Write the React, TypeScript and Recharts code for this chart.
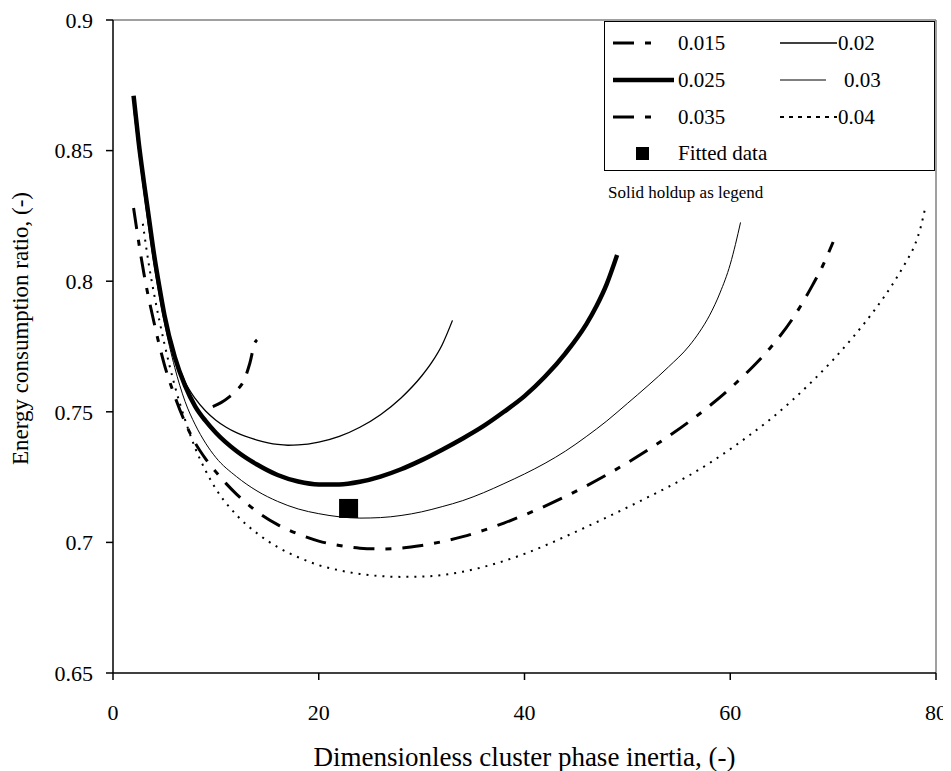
import React from 'react';
import { ComposedChart, Line, Scatter, XAxis, YAxis, ReferenceLine, Label } from 'recharts';

// ---- data (solid holdup as legend) ----
const h015X = [9.7, 10.5, 11.4, 12.1, 12.7, 13.3, 13.8, 14.0];
const h015Y = [0.752, 0.7535, 0.756, 0.7585, 0.7618, 0.7686, 0.7765, 0.7775];

const h020X = [2, 2.5, 3, 3.5, 4, 4.5, 5, 6, 7, 8, 9, 10, 11, 12, 14, 16, 17, 18, 20, 22, 24, 26, 28, 30, 31, 32, 33];
const h020Y = [0.869, 0.852, 0.837, 0.823, 0.81, 0.798, 0.788, 0.772, 0.7615, 0.755, 0.7503, 0.7468, 0.7441, 0.742, 0.7392, 0.7375, 0.7372, 0.7373, 0.7384, 0.7406, 0.7441, 0.7489, 0.7553, 0.7637, 0.769, 0.7757, 0.785];

const h025X = [2, 2.5, 3, 3.5, 4, 4.5, 5, 6, 7, 8, 9, 10, 12, 14, 16, 18, 20, 22, 24, 26, 28, 30, 32, 34, 36, 38, 40, 42, 44, 46, 47, 48, 49];
const h025Y = [0.871, 0.853, 0.838, 0.824, 0.81, 0.798, 0.787, 0.771, 0.76, 0.752, 0.7465, 0.742, 0.735, 0.7298, 0.7258, 0.7233, 0.7222, 0.7222, 0.7232, 0.7252, 0.728, 0.7315, 0.7355, 0.7398, 0.7445, 0.75, 0.756, 0.7635, 0.7725, 0.7835, 0.7905, 0.799, 0.81];

const h030X = [2, 3, 4, 5, 6, 7, 8, 9, 10, 12, 14, 16, 18, 20, 22, 24, 26, 28, 30, 32, 34, 36, 38, 40, 42, 44, 46, 48, 50, 52, 54, 56, 57, 58, 59, 60, 60.5, 61];
const h030Y = [0.866, 0.834, 0.806, 0.784, 0.767, 0.754, 0.745, 0.738, 0.7325, 0.7252, 0.7197, 0.7157, 0.7128, 0.711, 0.7098, 0.7093, 0.7095, 0.7103, 0.7117, 0.7137, 0.716, 0.719, 0.7225, 0.7262, 0.7303, 0.735, 0.7405, 0.7465, 0.7532, 0.76, 0.7672, 0.7752, 0.7805, 0.787, 0.7955, 0.8065, 0.814, 0.8225];

const h035X = [2, 3, 4, 5, 6, 7, 8, 9, 10, 11, 12, 14, 16, 18, 20, 22, 24, 26, 28, 30, 32, 34, 36, 38, 40, 42, 44, 46, 48, 50, 52, 54, 56, 58, 60, 62, 64, 66, 68, 69, 70];
const h035Y = [0.828, 0.803, 0.784, 0.768, 0.756, 0.746, 0.738, 0.732, 0.727, 0.7225, 0.7185, 0.7118, 0.7068, 0.7032, 0.7005, 0.6988, 0.6978, 0.6975, 0.6978, 0.6988, 0.7003, 0.7022, 0.7046, 0.7074, 0.7105, 0.7139, 0.7176, 0.7216, 0.7259, 0.7305, 0.7354, 0.7406, 0.7462, 0.7523, 0.759, 0.7665, 0.775, 0.7853, 0.7985, 0.806, 0.815];

const h040X = [2.9, 3.5, 4, 5, 6, 7, 8, 9, 10, 12, 14, 16, 18, 20, 22, 24, 26, 28, 30, 32, 34, 36, 38, 40, 42, 44, 46, 48, 50, 52, 54, 56, 58, 60, 62, 64, 66, 68, 70, 72, 74, 76, 77, 78, 78.5, 79];
const h040Y = [0.822, 0.806, 0.795, 0.776, 0.76, 0.747, 0.736, 0.7275, 0.7205, 0.7105, 0.7035, 0.6982, 0.6943, 0.6913, 0.6893, 0.6879, 0.6871, 0.6868, 0.6869, 0.6875, 0.6888, 0.6906, 0.6929, 0.6956, 0.6988, 0.7023, 0.7059, 0.7096, 0.7134, 0.7173, 0.7213, 0.7256, 0.7304, 0.7357, 0.7414, 0.7475, 0.7543, 0.7618, 0.7699, 0.7789, 0.7888, 0.8002, 0.8068, 0.8145, 0.8205, 0.829];

const fittedX = [22.9];
const fittedY = [0.713];

const xTicks = [0, 20, 40, 60, 80];
const yTicks = [0.65, 0.7, 0.75, 0.8, 0.85, 0.9];

const xTitle = 'Dimensionless cluster phase inertia, (-)';
const yTitle = 'Energy consumption ratio, (-)';
const noteText = 'Solid holdup as legend';

type Pt = { x: number; y: number };
const pts = (xs: number[], ys: number[]): Pt[] => xs.map((x, i) => ({ x, y: ys[i] }));

const FONT = '"Liberation Serif", "Times New Roman", serif';
const DASHDOT = '21 11 6 11';

const series = [
  { name: '0.015', data: pts(h015X, h015Y), width: 3, dash: DASHDOT },
  { name: '0.02', data: pts(h020X, h020Y), width: 1.3, dash: undefined },
  { name: '0.025', data: pts(h025X, h025Y), width: 4.5, dash: undefined },
  { name: '0.03', data: pts(h030X, h030Y), width: 1, dash: undefined },
  { name: '0.035', data: pts(h035X, h035Y), width: 3, dash: DASHDOT },
  { name: '0.04', data: pts(h040X, h040Y), width: 2, dash: '2 6' },
];

const fitted = pts(fittedX, fittedY);

const Square = (props: any) => {
  const { cx, cy } = props;
  if (cx == null || cy == null) return null;
  return <rect x={cx - 9.5} y={cy - 9.5} width={19} height={19} fill="#000" />;
};

const XTick = (props: any) => {
  const { x, y, payload } = props;
  return (
    <text x={x} y={y} dy="0.71em" textAnchor="middle" fontSize={22} fontFamily={FONT} fill="#000">
      {String(payload.value)}
    </text>
  );
};

const YTick = (props: any) => {
  const { x, y, payload } = props;
  return (
    <text x={x} y={y} dy="0.35em" textAnchor="end" fontSize={22} fontFamily={FONT} fill="#000">
      {String(payload.value)}
    </text>
  );
};

const Sample = ({ w, width, dash }: { w: number; width: number; dash?: string }) => (
  <svg width={w} height={12} style={{ display: 'block' }}>
    <line x1={0} y1={6} x2={w} y2={6} stroke="#000" strokeWidth={width} strokeDasharray={dash} />
  </svg>
);

const legendRow = (
  left: number,
  top: number,
  sampleW: number,
  textLeft: number,
  label: string,
  width: number,
  dash?: string
) => (
  <React.Fragment key={label}>
    <div style={{ position: 'absolute', left, top: top - 6 }}>
      <Sample w={sampleW} width={width} dash={dash} />
    </div>
    <div
      style={{
        position: 'absolute',
        left: textLeft,
        top: top - 12,
        fontFamily: FONT,
        fontSize: 21,
        lineHeight: '24px',
        color: '#000',
        whiteSpace: 'nowrap',
      }}
    >
      {label}
    </div>
  </React.Fragment>
);

export default function App() {
  return (
    <div style={{ position: 'relative', width: 943, height: 763, fontFamily: FONT }}>
      <ComposedChart width={943} height={763} margin={{ top: 12, right: 15, bottom: 8, left: 0 }}>
        <XAxis
          type="number"
          dataKey="x"
          domain={[0, 80]}
          ticks={xTicks}
          height={90}
          tickSize={7}
          tickMargin={24}
          stroke="#000"
          strokeWidth={1.5}
          tick={<XTick />}
        >
          <Label
            content={(p: any) => {
              const vb = p.viewBox;
              return (
                <text
                  x={vb.x + vb.width / 2}
                  y={vb.y + 93}
                  textAnchor="middle"
                  fontSize={27}
                  fontFamily={FONT}
                  fill="#000"
                >
                  {xTitle}
                </text>
              );
            }}
          />
        </XAxis>
        <YAxis
          type="number"
          domain={[0.65, 0.9]}
          ticks={yTicks}
          width={105}
          tickSize={7}
          tickMargin={13}
          stroke="#000"
          strokeWidth={1.5}
          tick={<YTick />}
        >
          <Label
            content={(p: any) => {
              const vb = p.viewBox;
              const cx = 12;
              const cy = vb.y + vb.height / 2 - 18;
              return (
                <text
                  x={cx}
                  y={cy}
                  transform={`rotate(-90 ${cx} ${cy})`}
                  textAnchor="middle"
                  dominantBaseline="central"
                  fontSize={23}
                  fontFamily={FONT}
                  fill="#000"
                >
                  {yTitle}
                </text>
              );
            }}
          />
        </YAxis>
        <ReferenceLine y={0.9} stroke="#808080" strokeWidth={1.5} />
        <ReferenceLine x={80} stroke="#808080" strokeWidth={1.5} />
        {series.map((s) => (
          <Line
            key={s.name}
            name={s.name}
            data={s.data}
            dataKey="y"
            type="monotone"
            stroke="#000"
            strokeWidth={s.width}
            strokeDasharray={s.dash}
            dot={false}
            activeDot={false}
            isAnimationActive={false}
          />
        ))}
        <Scatter name="Fitted data" data={fitted} dataKey="y" shape={<Square />} isAnimationActive={false} />
      </ComposedChart>

      <div
        style={{
          position: 'absolute',
          left: 596,
          top: 13,
          width: 331,
          height: 150,
          border: '1px solid #000',
          background: '#fff',
          boxSizing: 'border-box',
        }}
      >
        {legendRow(8, 21, 45, 73, '0.015', 3, DASHDOT)}
        {legendRow(175, 21, 57, 233, '0.02', 1.3)}
        {legendRow(8, 58, 61, 73, '0.025', 4.5)}
        {legendRow(175, 58, 46, 239, '0.03', 1)}
        {legendRow(8, 95, 45, 73, '0.035', 3, DASHDOT)}
        {legendRow(175, 95, 57, 233, '0.04', 2, '4 5')}
        <div style={{ position: 'absolute', left: 31, top: 125, width: 13, height: 13, background: '#000' }} />
        <div
          style={{
            position: 'absolute',
            left: 73,
            top: 119,
            fontFamily: FONT,
            fontSize: 21,
            lineHeight: '24px',
            color: '#000',
            whiteSpace: 'nowrap',
          }}
        >
          Fitted data
        </div>
      </div>
      <div
        style={{
          position: 'absolute',
          left: 600,
          top: 175,
          fontFamily: FONT,
          fontSize: 17,
          lineHeight: '20px',
          color: '#000',
          whiteSpace: 'nowrap',
        }}
      >
        {noteText}
      </div>
    </div>
  );
}
